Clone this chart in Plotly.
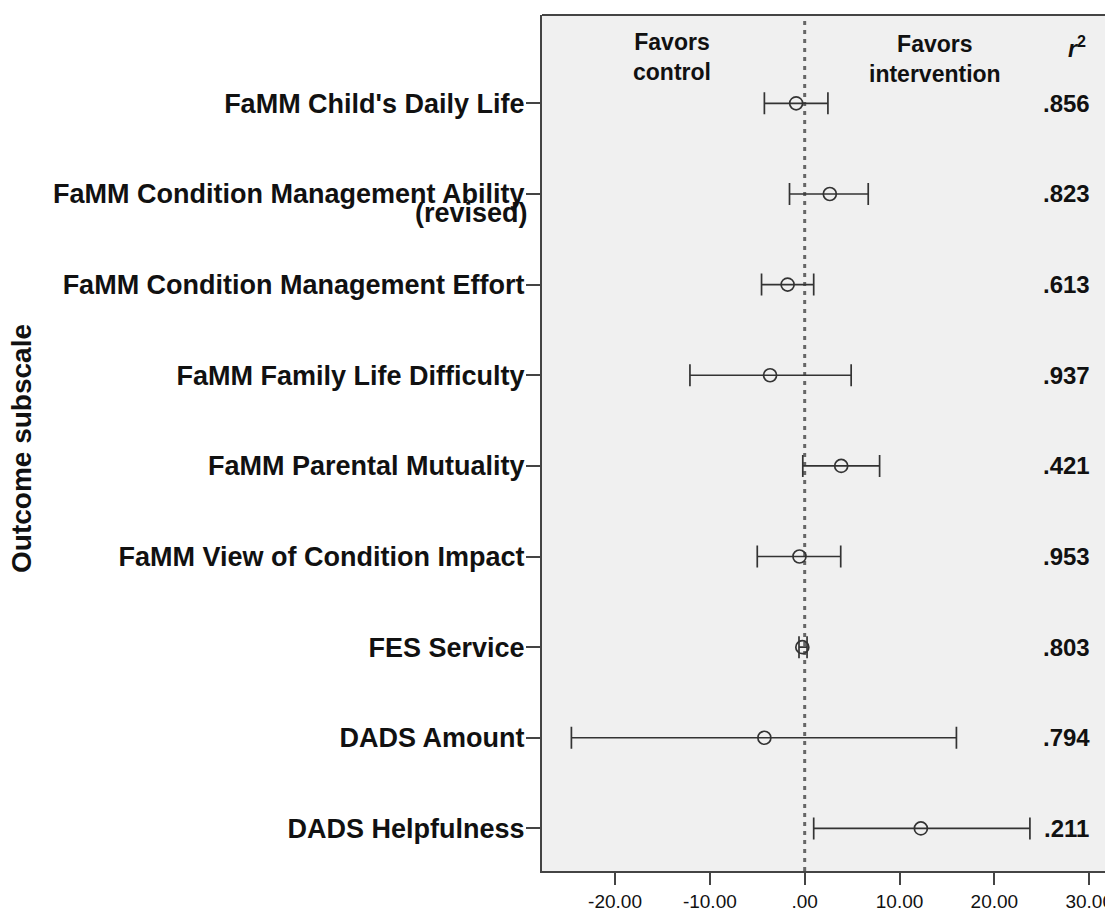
import plotly.graph_objects as go

labels = [
    "FaMM Child's Daily Life",
    "FaMM Condition Management Ability",
    "FaMM Condition Management Effort",
    "FaMM Family Life Difficulty",
    "FaMM Parental Mutuality",
    "FaMM View of Condition Impact",
    "FES Service",
    "DADS Amount",
    "DADS Helpfulness",
]
label_row2_extra = "(revised)"
estimate = [-0.9, 2.65, -1.8, -3.65, 3.85, -0.55, -0.25, -4.25, 12.25]
lower = [-4.25, -1.6, -4.55, -12.1, -0.2, -5.0, -0.6, -24.6, 0.95]
upper = [2.45, 6.7, 0.95, 4.9, 7.9, 3.8, 0.25, 16.0, 23.75]
r2 = [".856", ".823", ".613", ".937", ".421", ".953", ".803", ".794", ".211"]
xtick_vals = [-20, -10, 0, 10, 20, 30]
xtick_text = ["-20.00", "-10.00", ".00", "10.00", "20.00", "30.00"]

FONT = "Liberation Sans, Arial, sans-serif"
INK = "#333333"
rows = list(range(len(labels)))


def bold(size):
    return dict(family=FONT, size=size, color="#111", weight="bold")


fig = go.Figure()
fig.add_trace(go.Scatter(
    x=estimate, y=rows, mode="markers",
    marker=dict(symbol="circle-open", size=13, color=INK, line=dict(width=1.7, color=INK)),
    error_x=dict(type="data", symmetric=False,
                 array=[u - e for u, e in zip(upper, estimate)],
                 arrayminus=[e - l for e, l in zip(estimate, lower)],
                 color=INK, thickness=1.7, width=11),
    showlegend=False, hoverinfo="skip",
))

fig.add_shape(type="line", xref="x", yref="paper", x0=0, x1=0, y0=0, y1=1,
              line=dict(color="#666666", width=3, dash="4px,5px"), layer="below")

ann = []
for i, t in enumerate(r2):
    ann.append(dict(x=27.6, y=i, xref="x", yref="y", text=t, showarrow=False,
                    font=bold(24), xanchor="center", yanchor="middle"))
for x, y, t in [(-14.0, -0.51, "Favors<br>control"),
                (13.7, -0.49, "Favors<br>intervention"),
                (28.7, -0.625, "<i>r</i><sup>2</sup>")]:
    ann.append(dict(x=x, y=y, xref="x", yref="y", text=t, showarrow=False,
                    xanchor="center", yanchor="middle", font=bold(23)))
ann.append(dict(x=0, xref="paper", xshift=-12, y=1 + 0.21, yref="y", text=label_row2_extra,
                showarrow=False, xanchor="right", yanchor="middle", font=bold(27)))
ann.append(dict(x=0, xref="paper", xshift=-520, y=0.493, yref="paper", text="Outcome subscale",
                textangle=-90, showarrow=False, xanchor="center", yanchor="middle",
                font=bold(28)))

fig.update_layout(
    width=1105, height=904,
    margin=dict(l=534, r=0, t=7, b=35),
    paper_bgcolor="white", plot_bgcolor="#f0f0f0",
    annotations=ann,
    xaxis=dict(range=[-27.7, 32.3], tickvals=xtick_vals, ticktext=xtick_text,
               showgrid=False, zeroline=False, showline=True, linecolor="#444", linewidth=2,
               ticks="outside", ticklen=12, tickwidth=2, tickcolor="#444",
               ticklabeloverflow="allow",
               tickfont=dict(family=FONT, size=19, color="#111")),
    yaxis=dict(range=[8.47, -0.975], tickvals=rows, ticktext=labels,
               showgrid=False, zeroline=False, showline=True, linecolor="#444", linewidth=2,
               ticks="outside", ticklen=14, tickwidth=2, tickcolor="#444",
               ticklabelstandoff=-4,
               tickfont=bold(27)),
)
fig.add_shape(type="line", xref="paper", yref="paper", x0=0, x1=1, y0=1, y1=1,
              line=dict(color="#444", width=2))

fig.write_html("out.html")
